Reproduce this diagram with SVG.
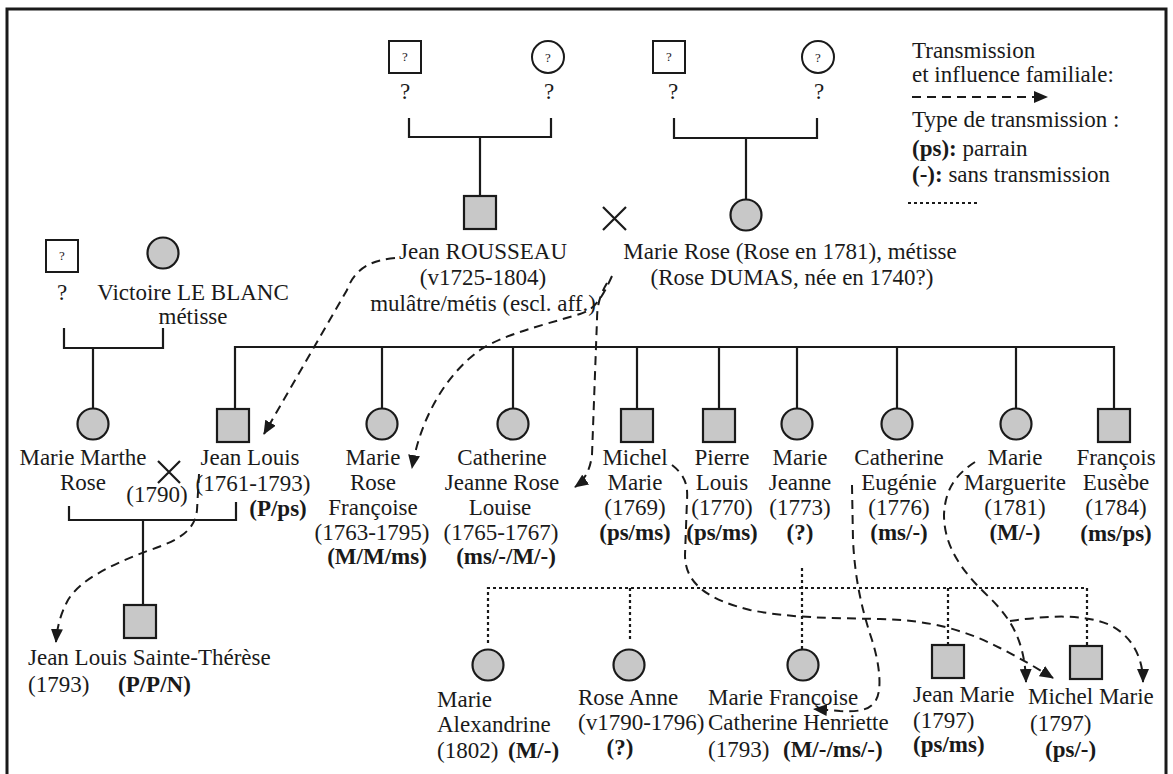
<svg xmlns="http://www.w3.org/2000/svg" width="1173" height="774" viewBox="0 0 1173 774">
<style>
text{font-family:"Liberation Serif","Times New Roman",serif;font-size:23px;fill:#1a1a1a}
.c{text-anchor:middle}
.b{font-weight:bold}
.q{font-size:13px;text-anchor:middle}
.n{fill:#c8c8c8;stroke:#1a1a1a;stroke-width:2.2}
.u{fill:#fff;stroke:#1a1a1a;stroke-width:2}
.l{fill:none;stroke:#1a1a1a;stroke-width:2.2}
.d{fill:none;stroke:#1a1a1a;stroke-width:2.2;stroke-dasharray:3,3}
.a{fill:none;stroke:#1a1a1a;stroke-width:2;stroke-dasharray:9,6}
</style>
<defs>
<marker id="ah" markerUnits="userSpaceOnUse" markerWidth="16" markerHeight="12" refX="13" refY="6" orient="auto">
<path d="M0,0 L14,6 L0,12 Z" fill="#1a1a1a"/>
</marker>
</defs>
<rect x="7" y="9" width="1159" height="775" fill="none" stroke="#1a1a1a" stroke-width="3"/>

<g id="connectors">
<path class="l" d="M409,118 V137 H551 V118 M480,137 V195"/>
<path class="l" d="M674,118 V138 H817 V118 M746,138 V199"/>
<path class="l" d="M64,328 V348 H163 V328 M93,348 V408"/>
<path class="l" d="M235,408 V347 H1114 V408 M382,347 V408 M513,347 V408 M637,347 V408 M719,347 V408 M797,347 V408 M897,347 V408 M1016,347 V408"/>
<path class="l" d="M69,506 V520 H236 V502 M143,520 V605"/>
<path class="d" d="M488,643 V588 H1087 V645 M630,588 V640 M802,568 V649 M948,588 V645"/>
<path class="l" d="M603,207 L626,230 M626,207 L603,230"/>
<path class="l" d="M158,461 L180,483 M180,461 L158,483"/>
<path class="a" marker-end="url(#ah)" d="M395,258 C372,260 355,268 347,290 L264,434"/>
<path class="a" marker-end="url(#ah)" d="M612,276 C603,296 595,310 580,314 C540,326 505,334 480,350 C445,375 420,420 412,468"/>
<path class="a" marker-end="url(#ah)" d="M607,283 C600,295 597,305 597,320 L592,455 C590,470 585,480 575,487"/>
<path class="a" marker-end="url(#ah)" d="M672,465 C685,475 688,485 687,500 L685,555 C685,585 710,600 750,610 C790,618 830,618 880,619 C930,620 965,630 1000,648 C1020,658 1040,670 1053,678"/>
<path class="a" marker-end="url(#ah)" d="M852,485 L853,540 C855,580 862,610 872,640 C880,665 882,690 876,700 C870,710 860,712 840,711 L814,709"/>
<path class="a" marker-end="url(#ah)" d="M975,462 C955,475 945,490 944,515 C944,545 960,570 990,598 C1010,618 1025,640 1026,682"/>
<path class="a" marker-end="url(#ah)" d="M1010,621 C1040,617 1080,612 1110,625 C1130,635 1143,655 1143,682"/>
<path class="a" marker-end="url(#ah)" d="M199,474 L197,510 C195,530 180,540 150,550 C110,565 80,580 68,600 C60,615 57,628 56,642"/>
</g>

<g id="legend">
<text x="912" y="58">Transmission</text>
<text x="912" y="82">et influence familiale:</text>
<path class="a" marker-end="url(#ah)" d="M912,97 H1047"/>
<text x="912" y="127">Type de transmission :</text>
<text x="912" y="156"><tspan class="b">(ps):</tspan> parrain</text>
<text x="912" y="182"><tspan class="b">(-):</tspan> sans transmission</text>
<path class="d" d="M908,203 H977"/>
</g>

<g id="gp-rousseau-father"><rect class="u" x="389" y="41" width="32" height="32"/><text class="q" x="405" y="61">?</text><text class="c" x="405" y="99">?</text></g>
<g id="gp-rousseau-mother"><circle class="u" cx="548" cy="57" r="16"/><text class="q" x="548" y="62">?</text><text class="c" x="549" y="99">?</text></g>
<g id="gp-rose-father"><rect class="u" x="653" y="41" width="32" height="32"/><text class="q" x="669" y="61">?</text><text class="c" x="673" y="99">?</text></g>
<g id="gp-rose-mother"><circle class="u" cx="818" cy="57" r="16"/><text class="q" x="818" y="62">?</text><text class="c" x="819" y="99">?</text></g>

<g id="jean-rousseau"><rect class="n" x="464" y="196" width="32" height="33"/>
<text class="c" x="483" y="259">Jean ROUSSEAU</text><text class="c" x="483" y="285">(v1725-1804)</text><text class="c" x="483" y="311">mulâtre/métis (escl. aff.)</text></g>
<g id="marie-rose"><circle class="n" cx="746" cy="215" r="15.5"/>
<text class="c" x="790" y="259">Marie Rose (Rose en 1781), métisse</text><text class="c" x="792" y="285">(Rose DUMAS, née en 1740?)</text></g>

<g id="unknown-father"><rect class="u" x="46" y="240" width="32" height="32"/><text class="q" x="62" y="260">?</text><text class="c" x="62" y="300">?</text></g>
<g id="victoire"><circle class="n" cx="163" cy="253" r="15.5"/><text class="c" x="193" y="300">Victoire LE BLANC</text><text class="c" x="193" y="324">métisse</text></g>

<g id="marie-marthe"><circle class="n" cx="93" cy="424" r="15.5"/><text class="c" x="83" y="465">Marie Marthe</text><text class="c" x="83" y="490">Rose</text><text class="c" x="157" y="502">(1790)</text></g>
<g id="jean-louis"><rect class="n" x="217" y="409" width="32" height="33"/><text class="c" x="250" y="465">Jean Louis</text><text class="c" x="253" y="491">(1761-1793)</text><text class="c b" x="278" y="516">(P/ps)</text></g>
<g id="marie-rose-francoise"><circle class="n" cx="382" cy="424" r="15.5"/><text class="c" x="373" y="465">Marie</text><text class="c" x="373" y="490">Rose</text><text class="c" x="373" y="515">Françoise</text><text class="c" x="372" y="540">(1763-1795)</text><text class="c b" x="377" y="564">(M/M/ms)</text></g>
<g id="catherine-jeanne"><circle class="n" cx="513" cy="424" r="15.5"/><text class="c" x="502" y="465">Catherine</text><text class="c" x="502" y="490">Jeanne Rose</text><text class="c" x="500" y="515">Louise</text><text class="c" x="501" y="540">(1765-1767)</text><text class="c b" x="506" y="564">(ms/-/M/-)</text></g>
<g id="michel-marie"><rect class="n" x="621" y="409" width="32" height="33"/><text class="c" x="635" y="465">Michel</text><text class="c" x="635" y="490">Marie</text><text class="c" x="635" y="515">(1769)</text><text class="c b" x="635" y="540">(ps/ms)</text></g>
<g id="pierre-louis"><rect class="n" x="703" y="409" width="32" height="33"/><text class="c" x="722" y="465">Pierre</text><text class="c" x="722" y="490">Louis</text><text class="c" x="722" y="515">(1770)</text><text class="c b" x="722" y="540">(ps/ms)</text></g>
<g id="marie-jeanne"><circle class="n" cx="797" cy="424" r="15.5"/><text class="c" x="800" y="465">Marie</text><text class="c" x="800" y="490">Jeanne</text><text class="c" x="800" y="515">(1773)</text><text class="c b" x="800" y="540">(?)</text></g>
<g id="catherine-eugenie"><circle class="n" cx="897" cy="424" r="15.5"/><text class="c" x="899" y="465">Catherine</text><text class="c" x="899" y="490">Eugénie</text><text class="c" x="899" y="515">(1776)</text><text class="c b" x="899" y="540">(ms/-)</text></g>
<g id="marie-marguerite"><circle class="n" cx="1016" cy="424" r="15.5"/><text class="c" x="1015" y="465">Marie</text><text class="c" x="1015" y="490">Marguerite</text><text class="c" x="1015" y="515">(1781)</text><text class="c b" x="1015" y="540">(M/-)</text></g>
<g id="francois-eusebe"><rect class="n" x="1098" y="409" width="32" height="33"/><text class="c" x="1116" y="465">François</text><text class="c" x="1116" y="490">Eusèbe</text><text class="c" x="1116" y="515">(1784)</text><text class="c b" x="1116" y="541">(ms/ps)</text></g>

<g id="jean-louis-sainte-therese"><rect class="n" x="124" y="605" width="32" height="33"/><text x="28" y="665">Jean Louis Sainte-Thérèse</text><text x="28" y="692">(1793)</text><text class="b" x="118" y="692">(P/P/N)</text></g>

<g id="marie-alexandrine"><circle class="n" cx="488" cy="665" r="15.5"/><text x="437" y="707">Marie</text><text x="437" y="732">Alexandrine</text><text x="437" y="758">(1802)</text><text class="b" x="508" y="758">(M/-)</text></g>
<g id="rose-anne"><circle class="n" cx="629" cy="665" r="15.5"/><text x="578" y="705">Rose Anne</text><text x="578" y="730">(v1790-1796)</text><text class="c b" x="620" y="755">(?)</text></g>
<g id="marie-francoise"><circle class="n" cx="803" cy="665" r="15.5"/><text x="708" y="705">Marie Françoise</text><text x="708" y="730">Catherine Henriette</text><text x="708" y="757">(1793)</text><text class="b" x="783" y="757">(M/-/ms/-)</text></g>
<g id="jean-marie"><rect class="n" x="932" y="645" width="32" height="33"/><text x="913" y="702">Jean Marie</text><text x="913" y="728">(1797)</text><text class="b" x="913" y="752">(ps/ms)</text></g>
<g id="michel-marie-1797"><rect class="n" x="1070" y="646" width="32" height="33"/><text x="1028" y="704">Michel Marie</text><text x="1030" y="731">(1797)</text><text class="b" x="1045" y="757">(ps/-)</text></g>
</svg>
